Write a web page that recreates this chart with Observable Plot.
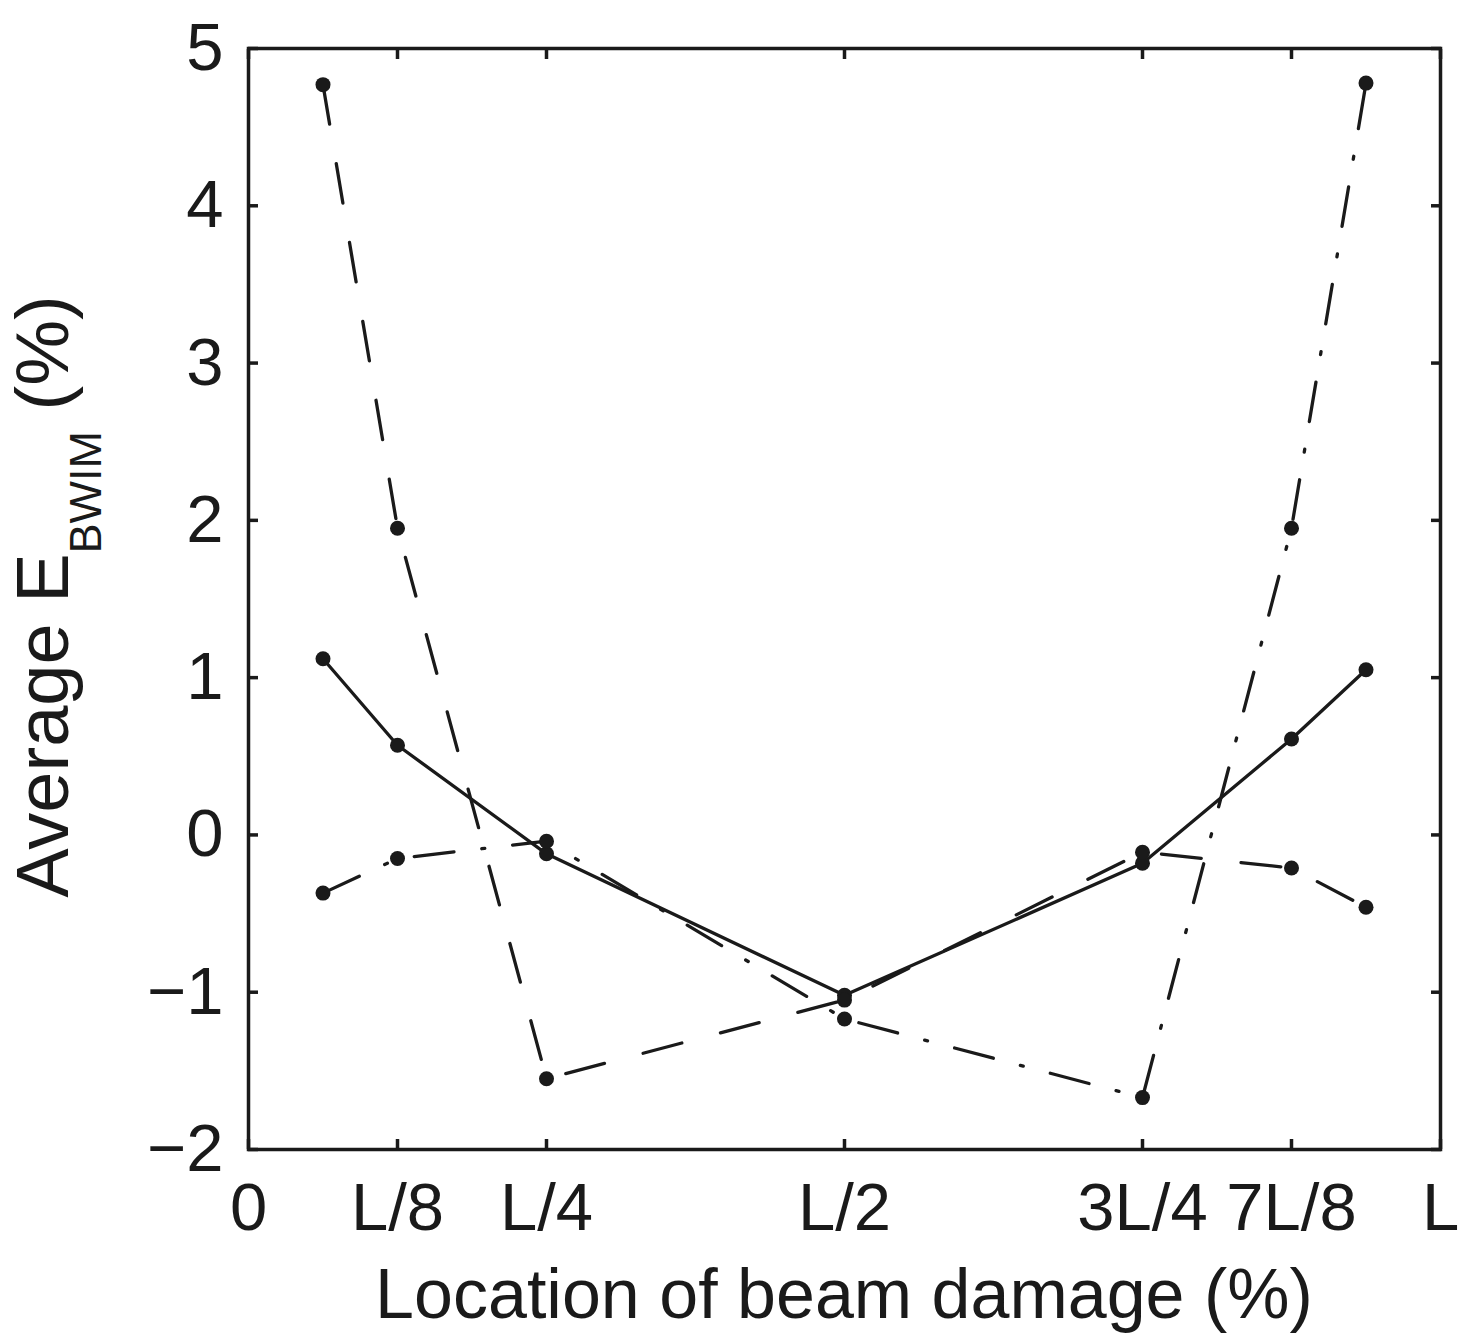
<!DOCTYPE html>
<html><head><meta charset="utf-8">
<script src="https://cdn.jsdelivr.net/npm/d3@7"></script>
<script src="https://cdn.jsdelivr.net/npm/@observablehq/plot@0.6"></script>
<style>html,body{margin:0;padding:0;background:#fff} svg{display:block}</style>
</head><body><div id="chart"></div>
<script>
// Damage locations (fraction of span L)
const positions = [1/16, 1/8, 1/4, 1/2, 3/4, 7/8, 15/16];
// Series values (Average E_BWIM, %)
const solidValues   = [1.12, 0.57, -0.12, -1.02, -0.18, 0.61, 1.05];
const dashedValues  = [4.77, 1.95, -1.55, -1.05, -0.11, -0.21, -0.46];
const dashdotValues = [-0.37, -0.15, -0.04, -1.17, -1.67, 1.95, 4.78];
// Ticks
const xTickValues = [0, 1/8, 1/4, 1/2, 3/4, 7/8, 1];
const xTickLabels = ["0", "L/8", "L/4", "L/2", "3L/4", "7L/8", "L"];
const yTickValues = [-2, -1, 0, 1, 2, 3, 4, 5];
// Labels
const xLabel = "Location of beam damage (%)";
const yLabelMain = "Average E";
const yLabelSub = "BWIM";
const yLabelTail = " (%)";

const rows = vals => positions.map((x, i) => ({x, y: vals[i]}));
const solid = rows(solidValues), dashed = rows(dashedValues), dashdot = rows(dashdotValues);
const allPts = [...solid, ...dashed, ...dashdot];

const ink = "#1a1a1a";
const font = "'Liberation Sans', Arial, Helvetica, sans-serif";
const W = 1469, H = 1337;
const mL = 248, mR = 29, mT = 48, mB = 188;
const lw = 3.3;

const plot = Plot.plot({
  width: W, height: H,
  marginLeft: mL, marginRight: mR, marginTop: mT, marginBottom: mB,
  style: {fontFamily: font, background: "#fff", color: ink},
  x: {domain: [0, 1]},
  y: {domain: [-2, 5]},
  marks: [
    Plot.line(solid, {x: "x", y: "y", stroke: ink, strokeWidth: lw}),
    Plot.line(dashed, {x: "x", y: "y", stroke: ink, strokeWidth: lw, strokeDasharray: "40,40"}),
    Plot.line(dashdot, {x: "x", y: "y", stroke: ink, strokeWidth: lw, strokeDasharray: "40,28,3,28"}),
    Plot.dot(allPts, {x: "x", y: "y", r: 7.5, fill: ink, stroke: "none"}),
    Plot.axisX(xTickValues, {anchor: "bottom", tickSize: -10, strokeWidth: 3.5, tickPadding: 43, fontSize: 67,
      tickFormat: d => xTickLabels[xTickValues.indexOf(d)], label: null}),
    Plot.axisX(xTickValues, {anchor: "top", tickSize: -10, strokeWidth: 3.5, tickFormat: () => "", label: null}),
    Plot.axisY(yTickValues, {anchor: "left", tickSize: -10, strokeWidth: 3.5, tickPadding: 35, fontSize: 67,
      tickFormat: d3.format("d"), label: null}),
    Plot.axisY(yTickValues, {anchor: "right", tickSize: -10, strokeWidth: 3.5, tickFormat: () => "", label: null}),
    Plot.frame({stroke: ink, strokeWidth: 3.5})
  ]
});

const svg = d3.select(plot);
// x-axis title
svg.append("text")
  .attr("x", (mL + (W - mR)) / 2)
  .attr("y", 1318)
  .attr("text-anchor", "middle")
  .attr("font-family", font)
  .attr("font-size", 70)
  .attr("fill", ink)
  .text(xLabel);
// y-axis title with subscript
const yt = svg.append("text")
  .attr("transform", `translate(68, ${(mT + (H - mB)) / 2 - 2}) rotate(-90)`)
  .attr("text-anchor", "middle")
  .attr("font-family", font)
  .attr("font-size", 74)
  .attr("fill", ink);
yt.append("tspan").text(yLabelMain);
yt.append("tspan").attr("font-size", 45).attr("dy", 33).text(yLabelSub);
yt.append("tspan").attr("dy", -33).text(yLabelTail);

document.getElementById("chart").appendChild(plot);
</script>
</body></html>
